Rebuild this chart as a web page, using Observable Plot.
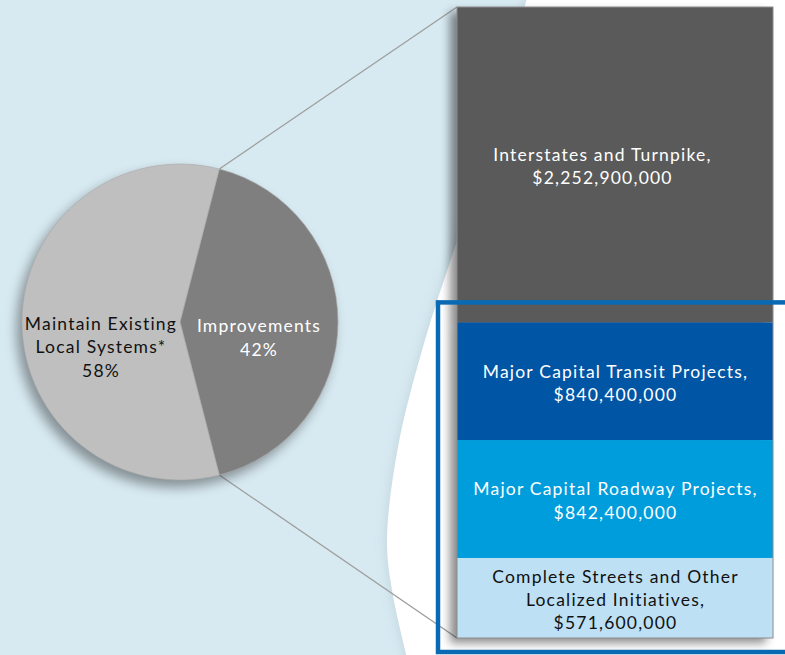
<!DOCTYPE html>
<html>
<head>
<meta charset="utf-8">
<script src="https://cdn.jsdelivr.net/npm/d3@7"></script>
<script src="https://cdn.jsdelivr.net/npm/@observablehq/plot@0.6"></script>
<style>
  html, body { margin: 0; padding: 0; background: #d7e9f1; overflow: hidden; }
  #wrap { position: relative; width: 785px; height: 655px; background: #d7e9f1; overflow: hidden; }
  #bg, #chart { position: absolute; left: 0; top: 0; }
</style>
</head>
<body>
<div id="wrap">
  <svg id="bg" width="785" height="655"></svg>
  <div id="chart"></div>
</div>
<script>
// ---- Data ----
const pieCategories = ["Improvements", "Maintain Existing\nLocal Systems*"];
const pieShares = [42, 58];

const categories = [
  "Interstates and Turnpike",
  "Major Capital Transit Projects",
  "Major Capital Roadway Projects",
  "Complete Streets and Other Localized Initiatives"
];
const labelLines = [
  "Interstates and Turnpike,",
  "Major Capital Transit Projects,",
  "Major Capital Roadway Projects,",
  "Complete Streets and Other\nLocalized Initiatives,"
];
const amounts = [2252900000, 840400000, 842400000, 571600000];

// ---- Styles ----
const segmentFill = ["#5a5a5a", "#0055a5", "#009ddc", "#bde0f5"];
const segmentText = ["#ffffff", "#ffffff", "#ffffff", "#111111"];
const pieFill = ["#7f7f7f", "#bfbfbf"];
const pieText = ["#ffffff", "#111111"];
const FONT = "Lato, 'Open Sans', sans-serif";
const FONT_SIZE = 17.5;
const LETTER_SPACING = "1.2px";
const groupKey = "Improvements";

// ---- Background decoration ----
(function drawBackground() {
  const bg = d3.select("#bg");
  const defs = bg.append("defs");
  const f = defs.append("filter").attr("id", "soft").attr("x", "-20%").attr("y", "-20%").attr("width", "140%").attr("height", "140%");
  f.append("feGaussianBlur").attr("stdDeviation", 4);
  const curve = [[408, 662], [392, 590], [387, 540], [398, 447], [425, 340], [470, 200], [527, -2]];
  const line = d3.line().curve(d3.curveCatmullRom);
  const d = line(curve) + " L790,-2 L790,662 Z";
  bg.append("path").attr("d", d).attr("fill", "#b9cdd6").attr("opacity", 0.5)
    .attr("transform", "translate(-3,0)").attr("filter", "url(#soft)");
  bg.append("path").attr("d", d).attr("fill", "#ffffff");
})();

// ---- Derived rows ----
const total = d3.sum(amounts);
const fmt = d3.format(",");
const rows = categories.map((c, i) => {
  const y1 = d3.sum(amounts.slice(i + 1));
  return {
    i, category: c,
    label: labelLines[i] + "\n$" + fmt(amounts[i]),
    y1, y2: y1 + amounts[i], mid: y1 + amounts[i] / 2
  };
});

// ---- Pie + connectors (custom render mark) ----
function pieLayer(index, scales) {
  const cx = 180, cy = 322, r = 158;
  const frac = pieShares[0] / d3.sum(pieShares);
  const start = Math.PI / 2 - Math.PI * frac;
  const arcs = d3.pie().sort(null).startAngle(start).endAngle(start + 2 * Math.PI)(pieShares);
  const arc = d3.arc().innerRadius(0).outerRadius(r);
  const g = d3.create("svg:g");
  const barLeft = scales.x ? scales.x(groupKey) : 457;
  const yTop = scales.y(total), yBot = scales.y(0);
  const pt = a => [cx + r * Math.sin(a), cy - r * Math.cos(a)];
  const p1 = pt(arcs[0].startAngle), p2 = pt(arcs[0].endAngle);
  g.append("line").attr("x1", p1[0]).attr("y1", p1[1]).attr("x2", barLeft).attr("y2", yTop)
    .attr("stroke", "#9e9e9e").attr("stroke-width", 1.3);
  g.append("line").attr("x1", p2[0]).attr("y1", p2[1]).attr("x2", barLeft).attr("y2", yBot)
    .attr("stroke", "#9e9e9e").attr("stroke-width", 1.3);

  const pg = g.append("g").attr("transform", `translate(${cx},${cy})`)
    .style("filter", "drop-shadow(-5px 7px 6px rgba(0,0,0,0.38))");
  pg.selectAll("path").data(arcs).join("path")
    .attr("d", arc).attr("fill", (d, i) => pieFill[i])
    .attr("stroke", "#a8a8a8").attr("stroke-width", 0.6);

  const dys = [16, 25];
  const lh = 23.5;
  arcs.forEach((a, i) => {
    const [tx, ty] = arc.centroid(a);
    const lines = (pieCategories[i] + "\n" + pieShares[i] + "%").split("\n");
    const t = g.append("text")
      .attr("text-anchor", "middle")
      .attr("font-family", FONT).attr("font-size", FONT_SIZE)
      .attr("letter-spacing", LETTER_SPACING)
      .attr("fill", pieText[i]);
    const cyText = cy + ty + dys[i];
    lines.forEach((ln, k) => {
      t.append("tspan").attr("x", cx + tx)
        .attr("y", cyText + (k - (lines.length - 1) / 2) * lh)
        .attr("dy", "0.35em").text(ln);
    });
  });
  return g.node();
}

// ---- Blue highlight frame (custom render mark) ----
function frameLayer(index, scales) {
  const barLeft = scales.x ? scales.x(groupKey) : 457;
  const top = scales.y(d3.sum(amounts.slice(1))) - 20;
  const bot = scales.y(0) + 14;
  const g = d3.create("svg:g");
  g.append("rect").attr("x", barLeft - 19).attr("y", top)
    .attr("width", 800 - (barLeft - 19)).attr("height", bot - top)
    .attr("fill", "none").attr("stroke", "#0a69b3").attr("stroke-width", 4.5);
  return g.node();
}

const chart = Plot.plot({
  width: 785,
  height: 655,
  margin: 0,
  style: { background: "transparent", overflow: "visible" },
  x: { type: "band", domain: [groupKey], range: [457, 773], padding: 0, axis: null },
  y: { domain: [0, total], range: [638, 7], axis: null },
  color: { type: "identity" },
  marks: [
    pieLayer,
    Plot.barY(rows, { x: () => groupKey, y1: "y1", y2: "y2", fill: d => segmentFill[d.i] }),
    Plot.barY([total], { x: () => groupKey, y1: () => 0, y2: d => d, fill: "none", stroke: "#8c8c8c", strokeWidth: 1 }),
    Plot.text(rows, {
      filter: d => d.i === 0, x: () => groupKey, y: "mid", text: "label",
      fill: d => segmentText[d.i], fontSize: FONT_SIZE, lineHeight: 1.34, fontFamily: FONT, dx: -13
    }),
    Plot.text(rows, {
      filter: d => d.i > 0, x: () => groupKey, y: "mid", text: "label",
      fill: d => segmentText[d.i], fontSize: FONT_SIZE, lineHeight: 1.34, fontFamily: FONT
    }),
    frameLayer
  ]
});

d3.select(chart).selectAll('g[aria-label="bar"]').filter((d, i) => i === 0)
  .style("filter", "drop-shadow(-7px 5px 5px rgba(0,0,0,0.45))");
d3.select(chart).selectAll('g[aria-label="text"]').style("letter-spacing", LETTER_SPACING);
document.getElementById("chart").appendChild(chart);
</script>
</body>
</html>
